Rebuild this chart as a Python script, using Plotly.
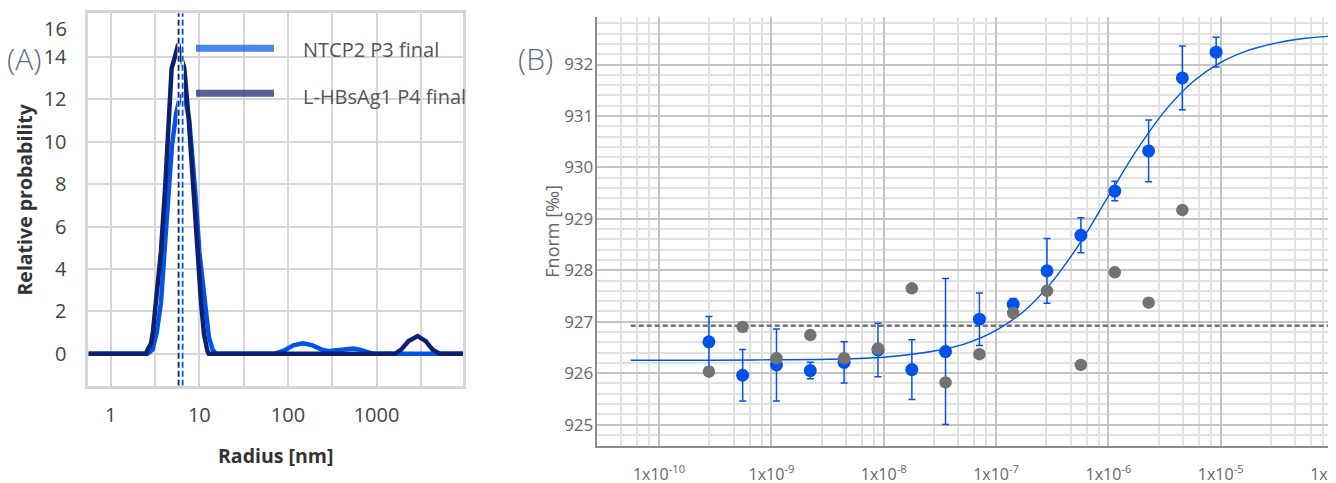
import plotly.graph_objects as go

# ---------------- Panel A: size distribution ----------------
radius_ntcp2 = [0.56, 2.6, 2.96, 3.3, 3.68, 4.01, 4.4, 4.9, 5.45, 5.95, 6.47, 7.0, 7.7, 8.4, 9.0,
                10.0, 11.4, 12.8, 14.1, 15.5, 70, 90, 115, 148, 190, 240, 297, 380, 470, 545,
                650, 780, 920, 9550]
prob_ntcp2 = [0, 0, 0.2, 1.0, 2.4, 4.8, 7.5, 9.8, 11.3, 12.0, 12.2, 11.9, 11.0, 9.2, 7.6,
              4.8, 2.4, 0.8, 0.2, 0, 0, 0.15, 0.4, 0.5, 0.4, 0.2, 0.13, 0.18, 0.24, 0.25,
              0.2, 0.08, 0, 0]

radius_lhbs = [0.56, 2.5, 2.6, 2.85, 3.0, 3.23, 3.68, 4.12, 4.49, 4.86, 5.3, 5.78, 6.2, 6.76,
               7.57, 8.62, 9.57, 10.45, 11.3, 12.4, 12.8, 1615, 1900, 2300, 2917, 3600, 4300,
               5224, 9550]
prob_lhbs = [0, 0, 0.2, 0.5, 1.1, 2.4, 4.8, 7.9, 11.1, 13.45, 14.0, 14.6, 14.0, 13.45,
             11.1, 7.9, 4.8, 2.4, 0.9, 0.1, 0, 0, 0.2, 0.6, 0.84, 0.6, 0.2, 0, 0]

mean_radius_ntcp2 = 6.47
mean_radius_lhbs = 5.83

name_ntcp2 = "NTCP2 P3 final"
name_lhbs = "L-HBsAg1 P4 final"

a_xticks = [1, 10, 100, 1000]
a_xminor = [3.162, 31.62, 316.2, 3162]
a_yticks = [0, 2, 4, 6, 8, 10, 12, 14]
a_yrange = [-1.5, 16.05]

# ---------------- Panel B: MST binding curve ----------------
conc = [2.78e-10, 5.55e-10, 1.11e-9, 2.22e-9, 4.44e-9, 8.89e-9, 1.78e-8, 3.55e-8,
        7.11e-8, 1.42e-7, 2.84e-7, 5.69e-7, 1.14e-6, 2.28e-6, 4.55e-6, 9.1e-6]
fnorm_ntcp2 = [926.61, 925.96, 926.16, 926.05, 926.21, 926.45, 926.07, 926.42,
               927.05, 927.34, 927.99, 928.68, 929.54, 930.32, 931.74, 932.24]
fnorm_err = [0.49, 0.5, 0.7, 0.16, 0.4, 0.52, 0.58, 1.42,
             0.51, 0.11, 0.63, 0.34, 0.19, 0.6, 0.62, 0.29]
fnorm_ctrl = [926.03, 926.90, 926.29, 926.74, 926.29, 926.48, 927.65, 925.82,
              926.37, 927.17, 927.60, 926.16, 927.96, 927.37, 929.17, None]

fit_conc = [5.6e-11, 3.16e-10, 1e-9, 3.16e-9, 1e-8, 3.16e-8, 5.62e-8, 1e-7, 1.78e-7,
            3.16e-7, 5.62e-7, 1e-6, 1.78e-6, 3.16e-6, 5.62e-6, 1e-5, 1.78e-5, 3.16e-5,
            5.62e-5, 9.3e-5]
fit_fnorm = [926.25, 926.25, 926.26, 926.27, 926.31, 926.45, 926.59, 926.83, 927.21,
             927.78, 928.54, 929.44, 930.33, 931.09, 931.66, 932.04, 932.28, 932.42,
             932.51, 932.55]

baseline_conc = [5.6e-11, 9.8e-5]
baseline_fnorm = [926.92, 926.92]

b_xticks = [1e-10, 1e-9, 1e-8, 1e-7, 1e-6, 1e-5, 1e-4]
b_xticktext = ["1x10<sup>-10</sup>", "1x10<sup>-9</sup>", "1x10<sup>-8</sup>",
               "1x10<sup>-7</sup>", "1x10<sup>-6</sup>", "1x10<sup>-5</sup>",
               "1x10<sup>-4</sup>"]
b_xminor = [m * 10.0 ** e for e in range(-11, -4) for m in (2.8, 4.6, 6.4, 8.2)]
b_yticks = [925, 926, 927, 928, 929, 930, 931, 932]
b_yrange = [924.59, 932.93]

# ---------------- styling ----------------
W, H = 1336, 483
OX, OY = 8, 8  # page body margin offset
def px(x):
    return (x - OX) / W
def py(y):
    return 1 - (y - OY) / H

FONT = "Open Sans"
NAVY = "#0e1f6d"
BLUE = "#0052e8"
GRAY = "#727272"
GRID_A = "#d6d6d8"

fig = go.Figure()

# Panel A traces
fig.add_trace(go.Scatter(x=radius_ntcp2, y=prob_ntcp2, mode="lines", name=name_ntcp2,
                         line=dict(color=BLUE, width=4.5), showlegend=False,
                         xaxis="x", yaxis="y"))
fig.add_trace(go.Scatter(x=radius_lhbs, y=prob_lhbs, mode="lines", name=name_lhbs,
                         line=dict(color=NAVY, width=4.5), showlegend=False,
                         xaxis="x", yaxis="y"))
for m, c in [(mean_radius_lhbs, NAVY), (mean_radius_ntcp2, BLUE)]:
    fig.add_trace(go.Scatter(x=[m, m], y=a_yrange, mode="lines", showlegend=False,
                             line=dict(color="white", width=2.5), hoverinfo="skip",
                             xaxis="x", yaxis="y"))
    fig.add_trace(go.Scatter(x=[m, m], y=a_yrange, mode="lines", showlegend=False,
                             line=dict(color=c, width=1.8, dash="6px,3px"),
                             xaxis="x", yaxis="y"))

# Panel B traces
fig.add_trace(go.Scatter(x=baseline_conc, y=baseline_fnorm, mode="lines", showlegend=False,
                         line=dict(color=GRAY, width=2.5, dash="5px,3px"),
                         xaxis="x2", yaxis="y2"))
fig.add_trace(go.Scatter(x=fit_conc, y=fit_fnorm, mode="lines", showlegend=False,
                         line=dict(color=BLUE, width=1.4, shape="spline"),
                         xaxis="x2", yaxis="y2"))
fig.add_trace(go.Scatter(x=conc, y=fnorm_ntcp2, mode="markers", showlegend=False,
                         marker=dict(color=BLUE, size=13),
                         error_y=dict(type="data", array=fnorm_err, color=BLUE,
                                      thickness=1.5, width=3.5),
                         xaxis="x2", yaxis="y2"))
fig.add_trace(go.Scatter(x=conc, y=fnorm_ctrl, mode="markers", showlegend=False,
                         marker=dict(color=GRAY, size=12.5),
                         xaxis="x2", yaxis="y2"))

fig.update_layout(
    width=W, height=H,
    margin=dict(l=0, r=0, t=0, b=0),
    paper_bgcolor="white", plot_bgcolor="white",
    font=dict(family=FONT, color="#444"),
    showlegend=False,
    xaxis=dict(
        type="log", domain=[px(88.3), px(463.3)], anchor="y",
        range=[-0.254, 3.98],
        tickmode="array", tickvals=a_xticks, ticktext=[str(v) for v in a_xticks],
        showgrid=True, gridcolor=GRID_A, gridwidth=2,
        minor=dict(tickmode="array", tickvals=a_xminor, showgrid=True,
                   gridcolor=GRID_A, gridwidth=2, ticklen=0),
        showline=True, linecolor=GRID_A, linewidth=2.5, mirror=True,
        ticks="", ticklabelstandoff=10,
        tickfont=dict(size=20, color="#444", family=FONT),
        zeroline=False, automargin=False,
    ),
    yaxis=dict(
        domain=[py(385.7), py(13.3)], anchor="x",
        range=a_yrange,
        tickmode="array", tickvals=a_yticks,
        showgrid=True, gridcolor=GRID_A, gridwidth=2,
        showline=True, linecolor=GRID_A, linewidth=2.5, mirror=True,
        ticks="", ticklabelstandoff=15,
        tickfont=dict(size=20, color="#444", family=FONT),
        zeroline=False, automargin=False,
    ),
    xaxis2=dict(
        type="log", domain=[px(596.7), px(1336)], anchor="y2",
        range=[-10.555, -3.974],
        tickmode="array", tickvals=b_xticks, ticktext=b_xticktext,
        showgrid=True, gridcolor="#c4c4c4", gridwidth=1.5,
        minor=dict(tickmode="array", tickvals=b_xminor, showgrid=True,
                   gridcolor="#e1e1e1", gridwidth=1.8, ticklen=0),
        showline=True, linecolor="#8c8c8c", linewidth=2,
        ticks="", ticklabelstandoff=13, ticklabeloverflow="allow",
        tickfont=dict(size=16, color="#666", family=FONT),
        zeroline=False, automargin=False,
    ),
    yaxis2=dict(
        domain=[py(445.7), py(16.7)], anchor="x2",
        range=b_yrange,
        tickmode="array", tickvals=b_yticks,
        showgrid=True, gridcolor="#c4c4c4", gridwidth=1.5,
        minor=dict(dtick=0.2, showgrid=True, gridcolor="#e1e1e1", gridwidth=1.8, ticklen=0),
        showline=True, linecolor="#8c8c8c", linewidth=2,
        ticks="", ticklabelstandoff=-2,
        tickfont=dict(size=17, color="#666", family=FONT),
        zeroline=False, automargin=False,
    ),
)

# Legend for panel A (drawn as line samples + labels)
legend_items = [(name_ntcp2, BLUE, 48.3, 50), (name_lhbs, NAVY, 93.3, 96.5)]
for name, col, ly, ty in legend_items:
    fig.add_shape(type="line", xref="paper", yref="paper",
                  x0=px(196), x1=px(274), y0=py(ly), y1=py(ly),
                  line=dict(color=col, width=7), opacity=0.7)
    fig.add_annotation(text=name, xref="paper", yref="paper", x=px(301), y=py(ty),
                       xanchor="left", yanchor="middle", showarrow=False,
                       font=dict(size=20, color="#555", family=FONT))

annots = [
    dict(text="(A)", x=px(24), y=py(59), font=dict(size=30, color="#5b6b80", family=FONT, weight=300)),
    dict(text="(B)", x=px(535), y=py(59), font=dict(size=30, color="#5b6b80", family=FONT, weight=300)),
    dict(text="16", x=px(69), y=py(29), xanchor="right",
         font=dict(size=20, color="#444", family=FONT)),
    dict(text="Relative probability", x=px(24), y=py(199.5), textangle=-90,
         font=dict(size=19.5, color="#333", family=FONT, weight="bold")),
    dict(text="Radius [nm]", x=px(275.8), y=py(455),
         font=dict(size=19.5, color="#333", family=FONT, weight="bold")),
    dict(text="Fnorm [‰]", x=px(551.7), y=py(231), textangle=-90,
         font=dict(size=18, color="#666", family=FONT)),
]
for a in annots:
    a.setdefault("xanchor", "center")
    fig.add_annotation(xref="paper", yref="paper", yanchor="middle", showarrow=False, **a)

fig.write_html("out.html")
